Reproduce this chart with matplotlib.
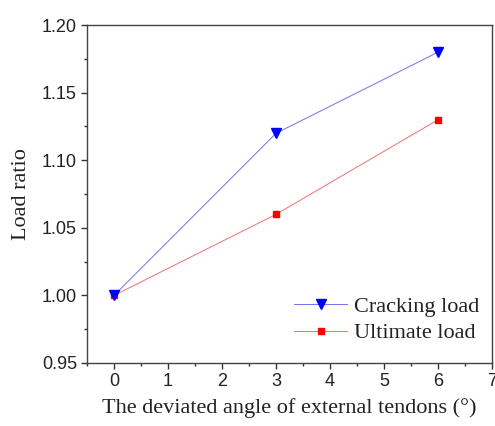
import matplotlib
matplotlib.use("Agg")
import matplotlib.pyplot as plt
from matplotlib.ticker import MultipleLocator

angles = [0, 3, 6]
cracking = [1.00, 1.12, 1.18]
ultimate = [1.00, 1.06, 1.13]

fig = plt.figure(figsize=(4.95, 4.26), dpi=100)
ax = fig.add_axes([0.176, 0.148, 0.818, 0.793])

ax.plot(angles, ultimate, color='#f07070', lw=0.7, marker='s', ms=4.5,
        mfc='red', mec='red', label='Ultimate load', zorder=3)
ax.plot(angles, cracking, color='#7070f0', lw=0.7, marker='v', ms=6.5,
        mfc='blue', mec='blue', label='Cracking load', zorder=4)

ax.set_xlim(-0.5, 7)
ax.set_ylim(0.95, 1.20)
ax.xaxis.set_major_locator(MultipleLocator(1))
ax.xaxis.set_minor_locator(MultipleLocator(0.5))
ax.yaxis.set_major_locator(MultipleLocator(0.05))
ax.yaxis.set_minor_locator(MultipleLocator(0.025))
ax.yaxis.set_major_formatter(plt.FuncFormatter(lambda v, p: f"{v:.2f}"))
ax.tick_params(which='major', direction='out', length=4.3, width=1,
               labelsize=13, colors='#333333', labelcolor='#222222', pad=3)
ax.tick_params(which='minor', direction='out', length=2.3, width=1, colors='#333333')
for lab in ax.get_xticklabels() + ax.get_yticklabels():
    lab.set_family('Liberation Sans')
for s in ax.spines.values():
    s.set_linewidth(1)
    s.set_color('#444444')

ax.set_xlabel('The deviated angle of external tendons (°)', family='Liberation Serif',
              fontsize=16, labelpad=6, color='#222222')
ax.set_ylabel('Load ratio', family='Liberation Serif', fontsize=16, labelpad=8,
              color='#222222')

h, l = ax.get_legend_handles_labels()
ax.legend(h[::-1], l[::-1], loc='lower right', frameon=False,
          prop={'family': 'Liberation Serif', 'size': 16}, handlelength=2.4,
          borderaxespad=0.3, labelspacing=0.28, handletextpad=0.3,
          bbox_to_anchor=(1.007, 0.012), labelcolor='#222222')

fig.savefig('out.png', dpi=100)
